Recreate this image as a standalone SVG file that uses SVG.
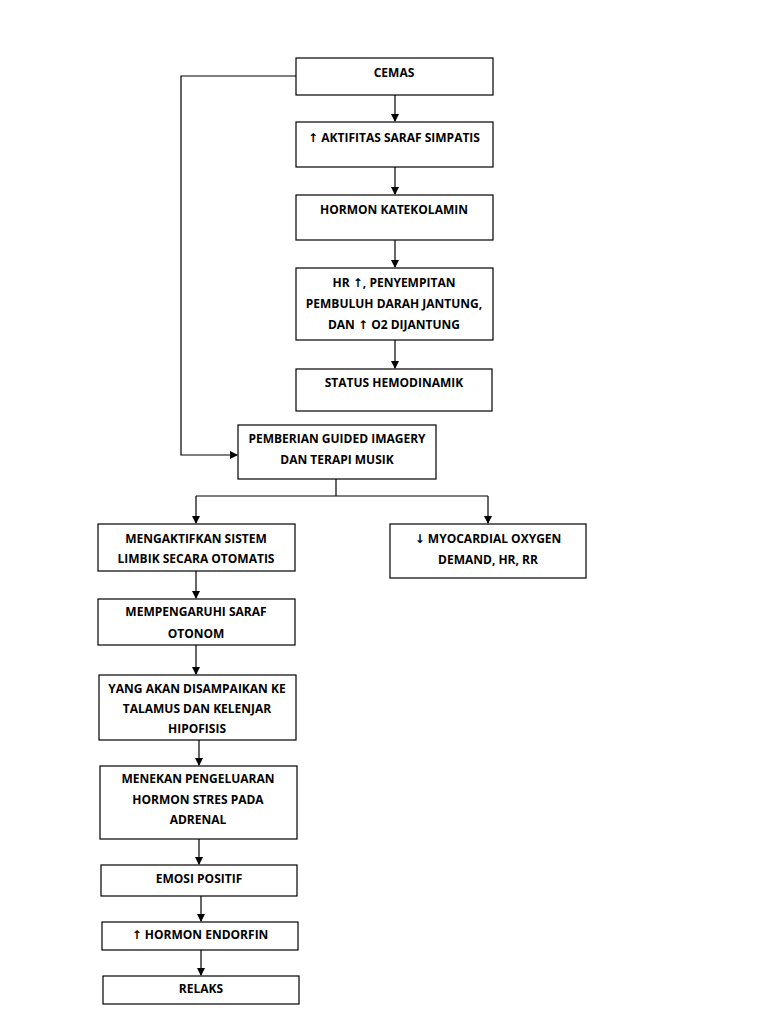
<svg xmlns="http://www.w3.org/2000/svg" width="768" height="1024" viewBox="0 0 768 1024">
<defs>
<marker id="ah" markerWidth="8" markerHeight="8" refX="7" refY="4" orient="auto" markerUnits="userSpaceOnUse">
<path d="M0,0 L8,4 L0,8 Z" fill="#000"/>
</marker>
<style>
rect{fill:#fff;stroke:#000;stroke-width:1.2}
text{font-family:"Open Sans","Liberation Sans",sans-serif;font-weight:bold;font-size:12px;text-anchor:middle;fill:#000}
.ar{font-family:"DejaVu Sans",sans-serif;font-weight:bold;fill:#000}
.c{fill:none;stroke:#000;stroke-width:1.2}
</style>
</defs>
<rect x="0" y="0" width="768" height="1024" style="fill:#fff;stroke:none"/>
<g id="connectors">
<path class="c" d="M395,95 V121" marker-end="url(#ah)"/>
<path class="c" d="M395,167 V194" marker-end="url(#ah)"/>
<path class="c" d="M395,240 V267" marker-end="url(#ah)"/>
<path class="c" d="M395,340 V368" marker-end="url(#ah)"/>
<path class="c" d="M296,76 H181 V455 H237" marker-end="url(#ah)"/>
<path class="c" d="M336,479 V496"/>
<path class="c" d="M196,496 H488"/>
<path class="c" d="M196,496 V523" marker-end="url(#ah)"/>
<path class="c" d="M488,496 V523" marker-end="url(#ah)"/>
<path class="c" d="M196,571 V598" marker-end="url(#ah)"/>
<path class="c" d="M196,645 V674" marker-end="url(#ah)"/>
<path class="c" d="M199,740 V765" marker-end="url(#ah)"/>
<path class="c" d="M199,839 V864" marker-end="url(#ah)"/>
<path class="c" d="M201,896 V921" marker-end="url(#ah)"/>
<path class="c" d="M201,950 V975" marker-end="url(#ah)"/>
</g>
<g id="n1"><rect x="296" y="58" width="197" height="37"/><text x="394" y="77">CEMAS</text></g>
<g id="n2"><rect x="296" y="122" width="197" height="45"/><text x="394" y="142"><tspan class="ar">↑</tspan> AKTIFITAS SARAF SIMPATIS</text></g>
<g id="n3"><rect x="296" y="195" width="197" height="45"/><text x="394" y="214">HORMON KATEKOLAMIN</text></g>
<g id="n4"><rect x="296" y="268" width="197" height="72"/><text x="394" y="287">HR <tspan class="ar">↑</tspan>, PENYEMPITAN</text><text x="394" y="308">PEMBULUH DARAH JANTUNG,</text><text x="394" y="329">DAN <tspan class="ar">↑</tspan> O2 DIJANTUNG</text></g>
<g id="n5"><rect x="296" y="369" width="196" height="42"/><text x="394" y="387">STATUS HEMODINAMIK</text></g>
<g id="n6"><rect x="238" y="425" width="198" height="54"/><text x="337" y="443">PEMBERIAN GUIDED IMAGERY</text><text x="337" y="464">DAN TERAPI MUSIK</text></g>
<g id="n7"><rect x="98" y="524" width="197" height="47"/><text x="196" y="543">MENGAKTIFKAN SISTEM</text><text x="196" y="563">LIMBIK SECARA OTOMATIS</text></g>
<g id="n8"><rect x="390" y="524" width="196" height="54"/><text x="488" y="543"><tspan class="ar">↓</tspan> MYOCARDIAL OXYGEN</text><text x="488" y="564">DEMAND, HR, RR</text></g>
<g id="n9"><rect x="98" y="599" width="197" height="46"/><text x="196" y="616">MEMPENGARUHI SARAF</text><text x="196" y="638">OTONOM</text></g>
<g id="n10"><rect x="99" y="675" width="197" height="65"/><text x="197" y="693">YANG AKAN DISAMPAIKAN KE</text><text x="197" y="713">TALAMUS DAN KELENJAR</text><text x="197" y="733">HIPOFISIS</text></g>
<g id="n11"><rect x="100" y="766" width="197" height="73"/><text x="198" y="783">MENEKAN PENGELUARAN</text><text x="198" y="804">HORMON STRES PADA</text><text x="198" y="824">ADRENAL</text></g>
<g id="n12"><rect x="101" y="865" width="196" height="31"/><text x="199" y="883">EMOSI POSITIF</text></g>
<g id="n13"><rect x="102" y="922" width="196" height="28"/><text x="200" y="939"><tspan class="ar">↑</tspan> HORMON ENDORFIN</text></g>
<g id="n14"><rect x="103" y="976" width="196" height="28"/><text x="201" y="993">RELAKS</text></g>
</svg>
